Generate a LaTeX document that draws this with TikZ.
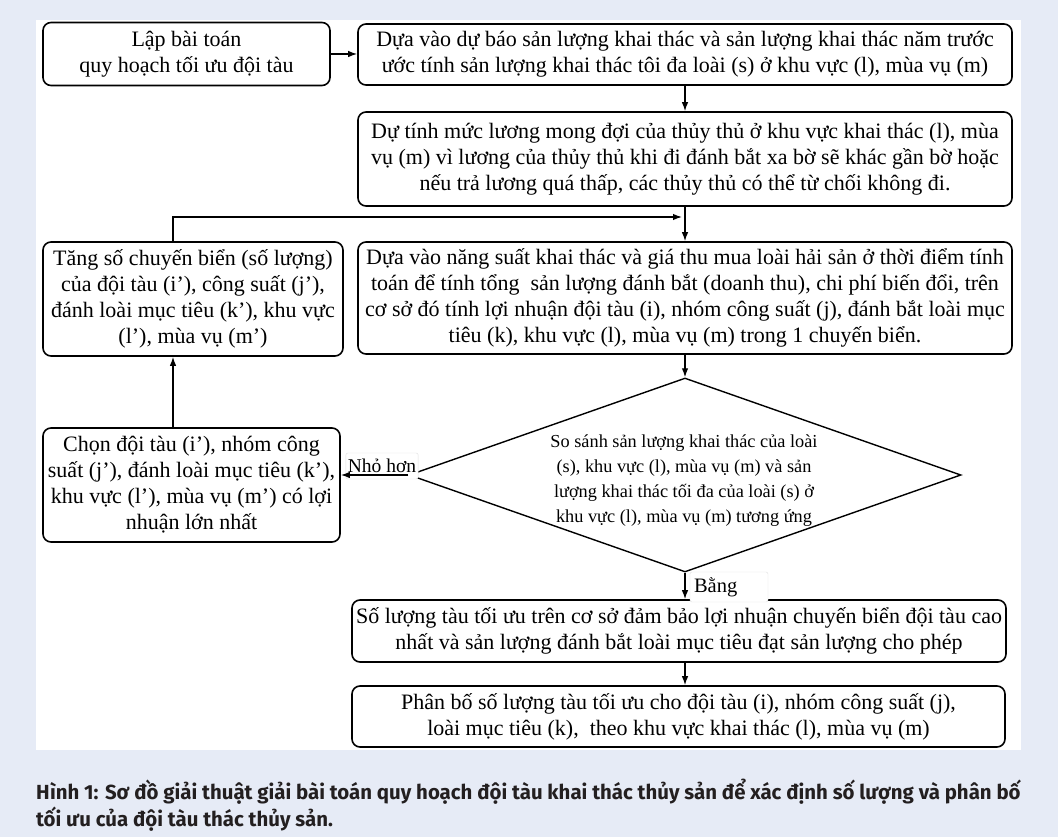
\documentclass[tikz,border=0pt]{standalone}
\usepackage{fontspec}
\setmainfont{Liberation Serif}
\newfontfamily\capfont{Fira Sans}
\usetikzlibrary{shapes.geometric,arrows.meta}
\definecolor{bgblue}{RGB}{230,235,246}
\definecolor{captext}{RGB}{35,31,32}
\tikzset{
  box/.style={draw=black, line width=1.6pt, rounded corners=8pt, align=center, inner sep=2pt,
    font=\fontsize{22}{26}\selectfont},
  conn/.style={line width=1.3pt, -{Latex[length=9pt,width=6.5pt]}},
  lbl/.style={fill=white, draw=black!12, rounded corners=2pt, inner sep=2pt, font=\fontsize{19.5}{22}\selectfont}
}
\begin{document}
\begin{tikzpicture}[x=1pt,y=-1pt]
\useasboundingbox (0,0) rectangle (1058,837);
\fill[bgblue] (0,0) rectangle (1058,837);
\fill[white] (36,20) rectangle (1021,750);

\node[box, minimum width=287pt, minimum height=63pt] (A) at (186.5,54) {Lập bài toán\\quy hoạch tối ưu đội tàu};
\node[box, minimum width=654pt, minimum height=61pt] (B) at (685,54.5) {Dựa vào dự báo sản lượng khai thác và sản lượng khai thác năm trước\\ước tính sản lượng khai thác tôi đa loài (s) ở khu vực (l), mùa vụ (m)};
\node[box, minimum width=654pt, minimum height=94pt] (C) at (685,159) {Dự tính mức lương mong đợi của thủy thủ ở khu vực khai thác (l), mùa\\vụ (m) vì lương của thủy thủ khi đi đánh bắt xa bờ sẽ khác gần bờ hoặc\\nếu trả lương quá thấp, các thủy thủ có thể từ chối không đi.};
\node[box, minimum width=300pt, minimum height=114pt] (D) at (193,299) {Tăng số chuyến biển (số lượng)\\của đội tàu (i’), công suất (j’),\\đánh loài mục tiêu (k’), khu vực\\(l’), mùa vụ (m’)};
\node[box, minimum width=654pt, minimum height=112pt] (E) at (685,298) {Dựa vào năng suất khai thác và giá thu mua loài hải sản ở thời điểm tính\\toán để tính tổng \ sản lượng đánh bắt (doanh thu), chi phí biến đổi, trên\\cơ sở đó tính lợi nhuận đội tàu (i), nhóm công suất (j), đánh bắt loài mục\\tiêu (k), khu vực (l), mùa vụ (m) trong 1 chuyến biển.};
\node[diamond, draw=black, line width=1.4pt, minimum width=552pt, minimum height=194pt, inner sep=0pt] (dia) at (685,475) {};
\node[align=center, font=\fontsize{18.3}{25}\selectfont] (diatext) at (684,481) {So sánh sản lượng khai thác của loài\\(s), khu vực (l), mùa vụ (m) và sản\\lượng khai thác tối đa của loài (s) ở\\khu vực (l), mùa vụ (m) tương ứng};
\node[box, minimum width=297pt, minimum height=114pt] (F) at (191.5,485) {Chọn đội tàu (i’), nhóm công\\suất (j’), đánh loài mục tiêu (k’),\\khu vực (l’), mùa vụ (m’) có lợi\\nhuận lớn nhất};
\node[box, minimum width=654pt, minimum height=62pt] (G) at (679,631) {Số lượng tàu tối ưu trên cơ sở đảm bảo lợi nhuận chuyến biển đội tàu cao\\nhất và sản lượng đánh bắt loài mục tiêu đạt sản lượng cho phép};
\node[box, minimum width=653pt, minimum height=61pt] (H) at (678.5,716.5) {Phân bố số lượng tàu tối ưu cho đội tàu (i), nhóm công suất (j),\\loài mục tiêu (k), \ theo khu vực khai thác (l), mùa vụ (m)};

\coordinate (lx) at (173,0);
\coordinate (join) at (682,217);

\node[lbl, minimum width=72pt, minimum height=26pt] (no) at (382,466) {Nhỏ hơn};
\node[lbl, minimum width=78pt, minimum height=30pt, text width=70pt, align=left, font=\fontsize{20.5}{22}\selectfont] (yes) at (729,587) {Bằng};

\draw[conn] (A.east) -- (B.west |- A.east);
\draw[conn] (B.south -| dia.north) -- (C.north -| dia.north);
\draw[conn] (C.south -| dia.north) -- (E.north -| dia.north);
\draw[conn] (D.north -| lx) |- (join);
\draw[conn] (E.south -| dia.north) -- (dia.north);
\draw[conn] (dia.west) -- (F.east |- dia.west);
\draw[conn] (F.north -| lx) -- (D.south -| lx);
\draw[conn] (dia.south) -- (G.north -| dia.south);
\draw[conn] (G.south -| dia.south) -- (H.north -| dia.south);

\node[anchor=north west, align=left, text=captext, inner sep=0pt,
  font=\capfont\bfseries\fontsize{20.4}{27}\selectfont] (cap) at (36,779)
  {Hình 1: Sơ đồ giải thuật giải bài toán quy hoạch đội tàu khai thác thủy sản để xác định số lượng và phân bố\\tối ưu của đội tàu thác thủy sản.};
\end{tikzpicture}
\end{document}
